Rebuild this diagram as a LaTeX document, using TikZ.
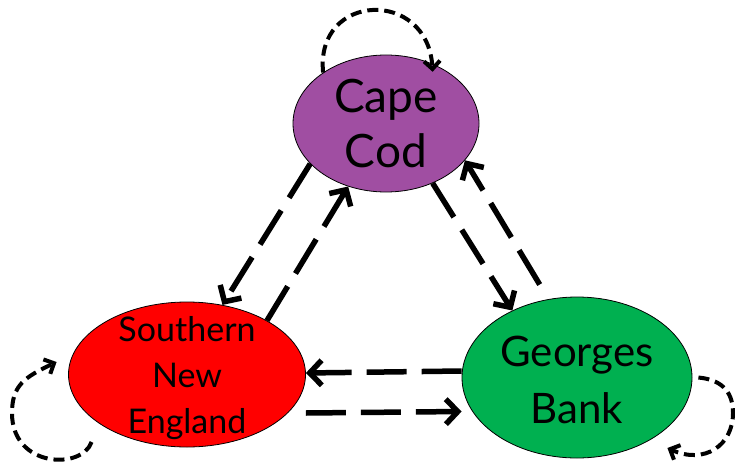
\documentclass[tikz,border=0pt]{standalone}
\usepackage{fontspec}
\setmainfont{Lato}
\usetikzlibrary{arrows.meta,shapes.geometric}
\definecolor{ccpurple}{RGB}{160,78,162}
\definecolor{snered}{RGB}{255,0,0}
\definecolor{gbgreen}{RGB}{0,176,80}
\begin{document}
\begin{tikzpicture}[x=1pt,y=-1pt,
  region/.style={ellipse,draw=black,line width=0.8pt,inner sep=0pt},
  lbl/.style={align=center,text=black,inner sep=0pt},
  conn/.style={line width=5.5pt,dash pattern=on 40pt off 15pt,-{Straight Barb[length=12pt,width=25pt]}},
  selfloop/.style={line width=4pt,dash pattern=on 11pt off 6pt,-{Straight Barb[length=8pt,width=16pt]}}]
\useasboundingbox (0,0) rectangle (735,465);
\node[region,fill=ccpurple,minimum width=186pt,minimum height=137pt] (cc) at (386,123.5) {};
\node[region,fill=snered,minimum width=237pt,minimum height=145pt] (sne) at (187,374.5) {};
\node[region,fill=gbgreen,minimum width=230pt,minimum height=161pt] (gb) at (577,377.5) {};
\node[lbl,font=\fontsize{46}{55}\selectfont] (cclbl) at (cc) {Cape\\Cod};
\node[lbl,font=\fontsize{34}{46}\selectfont,yshift=-4pt] (snelbl) at (sne) {Southern\\New\\England};
\node[lbl,font=\fontsize{42}{57}\selectfont,yshift=-2pt] (gblbl) at (gb) {Georges\\Bank};
% connectors
\draw[conn] (cc.208) -- (sne.63);
\draw[conn] (sne.34) -- (cc.239);
\draw[conn] (cc.308) -- (gb.134);
\draw[conn,shorten <=17pt] (gb.110) -- (cc.335);
\draw[conn] ([yshift=6.5pt]gb.west) -- ([yshift=1.5pt]sne.east);
\draw[conn] ([yshift=-38.5pt]sne.east) -- ([yshift=-34pt]gb.west);
% self loops
\draw[selfloop] (cc.141) .. controls (315,-8) and (428,-12) .. ([yshift=-8pt]cc.52);
\draw[selfloop] ([xshift=23.5pt,yshift=-67.5pt]sne.west) .. controls (82,470) and (12,468) .. (12,413)
   .. controls (12,385) and (25,377) .. ([xshift=-11.5pt,yshift=12.5pt]sne.west);
\draw[selfloop] ([xshift=6pt]gb.east) .. controls (725,380) and (733,395) .. (733,413)
   .. controls (733,445) and (705,465) .. ([xshift=-25pt,yshift=-70.5pt]gb.east);
\end{tikzpicture}
\end{document}
